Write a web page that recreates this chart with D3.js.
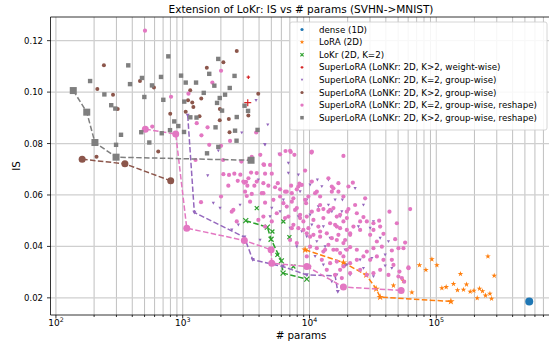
<!DOCTYPE html>
<html>
<head>
<meta charset="utf-8">
<script src="https://cdn.jsdelivr.net/npm/d3@7"></script>
<style>
  body { margin: 0; background: #fff; }
  text { font-family: "DejaVu Sans", sans-serif; fill: #000; }
</style>
</head>
<body>
<div id="chart"></div>
<script>
// [params, IS] pairs
const denseFront = [[541000, 0.0186]]

const loraFront = [[9230, 0.0387], [18520, 0.0337], [28000, 0.0289], [33560, 0.0235], [36080, 0.0203], [130400, 0.0186]]
const loraScatter = [[73690, 0.0327], [82780, 0.0309], [92330, 0.0350], [101100, 0.0327], [110700, 0.0238], [119700, 0.0242],
  [136700, 0.0254], [147000, 0.0230], [155200, 0.0293], [163900, 0.0232], [173200, 0.0252], [185200, 0.0224], [198100, 0.0228],
  [210300, 0.0199], [219300, 0.0236], [231500, 0.0226], [244500, 0.0209], [255500, 0.0361], [264900, 0.0216], [272800, 0.0197],
  [286400, 0.0286], [64180, 0.0221], [55090, 0.0266], [45940, 0.0248]]

const lokrFront = [[3142, 0.0500], [4653, 0.0475], [4977, 0.0428], [6000, 0.0344], [6188, 0.0296], [9521, 0.0273]]
const lokrScatter = [[3837, 0.0549], [6223, 0.0497], [6940, 0.0436], [5097, 0.0458], [5580, 0.0367], [7464, 0.0322]]

const weightFront = [[3258, 0.0959]]
const weightScatter = [[3294, 0.1058]]

const groupK2Front = [[1095, 0.0909], [1235, 0.0532], [3063, 0.0436], [3568, 0.0348], [6155, 0.0322], [9521, 0.0289], [15920, 0.0286], [16720, 0.0224]]
const groupK2Scatter = [[3788, 0.0968], [4687, 0.0873], [2922, 0.0842], [4430, 0.0797], [5757, 0.0759], [1910, 0.0772], [1575, 0.0675],
  [6815, 0.0724], [8429, 0.0639], [3951, 0.0659], [1744, 0.0568], [1970, 0.0549], [2833, 0.0561], [2747, 0.0484], [10110, 0.0639],
  [12510, 0.0633], [14100, 0.0659], [15920, 0.0581], [17990, 0.0535], [10110, 0.0523], [8172, 0.0516], [7031, 0.0471], [5862, 0.0535],
  [4887, 0.0516], [4075, 0.0425], [7939, 0.0399], [11070, 0.0361], [12870, 0.0328], [15000, 0.0263], [9521, 0.0438], [11420, 0.0419],
  [14540, 0.0432], [19100, 0.0387], [19700, 0.0328], [4462, 0.0795], [11540, 0.0659], [8172, 0.0678], [6815, 0.0685], [5041, 0.0549],
  [6223, 0.0581], [8429, 0.0613], [9521, 0.0581], [11750, 0.0555], [14100, 0.0561], [12870, 0.0477], [10430, 0.0484], [8693, 0.0458],
  [13280, 0.0399], [2436, 0.0464], [18180, 0.0581], [22900, 0.0626], [26640, 0.0561], [31940, 0.0497], [30090, 0.0471], [15000, 0.0535],
  [17440, 0.0516], [24310, 0.0477], [36080, 0.0432], [41960, 0.0419], [39520, 0.0367], [31020, 0.0354], [25080, 0.0348], [19100, 0.0324],
  [26640, 0.0315], [39520, 0.0324], [44620, 0.0315], [20910, 0.0289], [31940, 0.0283], [16420, 0.0289]]

const groupK3Front = [[161, 0.0739], [350, 0.0721], [804, 0.0655]]
const groupK3Scatter = [[239, 0.1104], [212, 0.1012], [282, 0.0990], [307, 0.0934], [209, 0.0749], [460, 0.1043], [593, 0.1018],
  [641, 0.0769], [797, 0.0916], [1146, 0.1007], [1101, 0.0968], [1189, 0.0960], [1056, 0.0924], [1213, 0.0942], [1400, 0.0975],
  [1357, 0.0906], [1549, 0.1095], [2092, 0.1116], [2668, 0.1160], [1963, 0.0934], [1959, 0.0891], [2311, 0.0895], [2340, 0.0844],
  [3294, 0.0909], [3943, 0.0994]]

const reshapeK2Front = [[507, 0.0856], [881, 0.0837], [1076, 0.0471], [3063, 0.0423], [4977, 0.0387], [5041, 0.0335], [9521, 0.0322], [18520, 0.0242], [52840, 0.0229]]
const reshapeK2Scatter = [[504, 0.1239], [809, 0.0982], [1110, 0.0994], [1713, 0.1037], [2006, 0.1083], [1290, 0.0879], [1570, 0.0863],
  [1405, 0.0832], [575, 0.0866], [2362, 0.0810], [1619, 0.0795], [2006, 0.0791], [3800, 0.0843], [4090, 0.0756], [3504, 0.0748],
  [4340, 0.0719], [6470, 0.0771], [7120, 0.0767], [7600, 0.0756], [1262, 0.0736], [2080, 0.0736], [2901, 0.0730], [2092, 0.0681],
  [2554, 0.0683], [2848, 0.0679], [3460, 0.0687], [3160, 0.0651], [4462, 0.0683], [5041, 0.0683], [2290, 0.0636], [2717, 0.0655],
  [3235, 0.0636], [3673, 0.0636], [4738, 0.0636], [5352, 0.0630], [7160, 0.0636], [8322, 0.0644],
  [3354, 0.0739], [4382, 0.0717], [5862, 0.0758], [10380, 0.0765], [18520, 0.0752], [2319, 0.0678], [3300, 0.0665], [3837, 0.0685],
  [3063, 0.0648], [3837, 0.0652], [5622, 0.0646], [6418, 0.0613], [7251, 0.0607], [8172, 0.0633], [9801, 0.0594], [11420, 0.0613],
  [12130, 0.0594], [15000, 0.0613], [16910, 0.0613], [18520, 0.0594], [2006, 0.0594], [1394, 0.0572], [2436, 0.0535], [3200, 0.0596],
  [3504, 0.0604], [3398, 0.0574], [4327, 0.0607], [4462, 0.0570], [5189, 0.0581], [5862, 0.0594], [6223, 0.0568], [7251, 0.0574],
  [7939, 0.0549], [9399, 0.0568], [8429, 0.0523], [10430, 0.0535], [11750, 0.0542], [12870, 0.0545], [14100, 0.0535], [15440, 0.0549],
  [17440, 0.0523], [19700, 0.0535], [4327, 0.0516], [3951, 0.0503], [5041, 0.0497], [5521, 0.0529], [6815, 0.0516], [7464, 0.0484],
  [8172, 0.0471], [8950, 0.0497], [9801, 0.0471], [10740, 0.0503], [11750, 0.0477], [12870, 0.0510], [14540, 0.0490], [16420, 0.0477],
  [18520, 0.0497], [19700, 0.0464], [9521, 0.0451], [10740, 0.0445], [12130, 0.0438], [13690, 0.0451], [15000, 0.0432], [16910, 0.0445],
  [19100, 0.0425], [20910, 0.0445], [10110, 0.0399], [11420, 0.0393], [12870, 0.0380], [14100, 0.0406], [15440, 0.0387], [17440, 0.0374],
  [19700, 0.0387], [9521, 0.0361], [12510, 0.0348], [14540, 0.0335], [16420, 0.0341], [18520, 0.0322], [13690, 0.0309], [15920, 0.0289],
  [17990, 0.0277], [9982, 0.0322],
  [4887, 0.0717], [10430, 0.0769], [3008, 0.0652], [4327, 0.0646], [5862, 0.0622], [6619, 0.0613], [7939, 0.0622], [8693, 0.0639],
  [10430, 0.0652], [14100, 0.0665], [15000, 0.0633], [16910, 0.0646], [3103, 0.0613], [4203, 0.0607], [7464, 0.0587], [9230, 0.0581],
  [11070, 0.0607], [12130, 0.0561], [14540, 0.0542], [2508, 0.0542], [2668, 0.0497], [4462, 0.0477], [6619, 0.0555], [6418, 0.0510],
  [7697, 0.0542], [8429, 0.0510], [9521, 0.0516], [16420, 0.0516], [7251, 0.0471], [8950, 0.0464], [10110, 0.0438], [12130, 0.0458],
  [16420, 0.0425], [7031, 0.0425], [7939, 0.0413], [13280, 0.0387], [16420, 0.0387],
  [15440, 0.0626], [20280, 0.0633], [21970, 0.0648], [27470, 0.0587], [22900, 0.0561], [20280, 0.0545], [26640, 0.0514], [28330, 0.0497],
  [35430, 0.0500], [42730, 0.0535], [62230, 0.0545], [48870, 0.0490], [31940, 0.0464], [38310, 0.0449], [47380, 0.0428], [56810, 0.0415],
  [50310, 0.0393], [55090, 0.0393], [44620, 0.0384], [37220, 0.0399], [33990, 0.0419], [31940, 0.0393], [28330, 0.0380], [23620, 0.0387],
  [20910, 0.0397], [18520, 0.0413], [17440, 0.0471], [20910, 0.0451], [25080, 0.0464], [30090, 0.0445], [22210, 0.0477], [15920, 0.0484],
  [19700, 0.0510], [23620, 0.0529], [25080, 0.0497], [31940, 0.0490], [36080, 0.0477], [38310, 0.0348], [44620, 0.0348], [60340, 0.0319],
  [45940, 0.0328], [33990, 0.0361], [30090, 0.0348], [26640, 0.0361], [23620, 0.0348], [20910, 0.0335], [18520, 0.0361], [36080, 0.0309],
  [31940, 0.0296], [28330, 0.0289], [50310, 0.0283], [53510, 0.0277], [41960, 0.0289], [17440, 0.0309], [20910, 0.0296], [25080, 0.0309],
  [51230, 0.0302], [60340, 0.0315], [55790, 0.0263], [7031, 0.0772], [9230, 0.0695]]

const reshapeK3Front = [[137, 0.1006], [175, 0.0922], [203, 0.0804], [298, 0.0747], [3460, 0.0735]]
const reshapeK3Scatter = [[186, 0.1043], [241, 0.0991], [273, 0.0949], [294, 0.0936], [326, 0.0834], [372, 0.1104], [384, 0.1031],
  [298, 0.0795], [477, 0.1055], [498, 0.0981], [471, 0.0844], [545, 0.0804], [572, 0.1026], [674, 0.1059], [703, 0.0970], [770, 0.1139],
  [683, 0.0840], [970, 0.1064], [1056, 0.1037], [1274, 0.1037], [1465, 0.0997], [1619, 0.1071], [1776, 0.1025], [1907, 0.1129],
  [2349, 0.1016], [2563, 0.1063], [2157, 0.0990], [1959, 0.0977], [1866, 0.0958], [2043, 0.0928], [3075, 0.0947], [3276, 0.0927],
  [2668, 0.0903], [1815, 0.0863], [2587, 0.0850], [2658, 0.0811], [1910, 0.0787], [1555, 0.0762], [3893, 0.0853], [1285, 0.0901],
  [1148, 0.0902], [1028, 0.0963], [858, 0.0886], [923, 0.0868], [1024, 0.0845], [794, 0.0852]]

const seriesNames = ['dense (1D)', 'LoRA (2D)', 'LoKr (2D, K=2)', 'SuperLoRA (LoNKr: 2D, K>2, weight-wise)',
  'SuperLoRA (LoNKr: 2D, K=2, group-wise)', 'SuperLoRA (LoNKr: 2D, K>2, group-wise)',
  'SuperLoRA (LoNKr: 2D, K=2, group-wise, reshape)', 'SuperLoRA (LoNKr: 2D, K>2, group-wise, reshape)']
const yTicks = [0.02, 0.04, 0.06, 0.08, 0.10, 0.12]
const xTicks = [100, 1000, 10000, 100000]

const width = 549
const height = 347
const margin = {top: 17, right: -3, bottom: 32, left: 50.5}

const svg = d3.select('#chart').append('svg')
  .attr('width', width)
  .attr('height', height)

const x = d3.scaleLog()
  .domain([90.6, 818000])
  .range([margin.left, width - margin.right])

const y = d3.scaleLinear()
  .domain([0.01333, 0.1292])
  .range([height - margin.bottom, margin.top])

// grid
const minorX = []
for (let e = 1; e <= 5; e++) for (let m = 1; m <= 9; m++) {
  const v = m * Math.pow(10, e)
  if (v > x.domain()[0] && v < x.domain()[1]) minorX.push(v)
}
svg.append('g').selectAll('line').data(minorX).join('line')
  .attr('x1', d => x(d)).attr('x2', d => x(d))
  .attr('y1', margin.top).attr('y2', height - margin.bottom)
  .attr('stroke', '#b0b0b0').attr('stroke-width', 0.8)

svg.append('g').selectAll('line').data(yTicks).join('line')
  .attr('x1', margin.left).attr('x2', width)
  .attr('y1', d => y(d)).attr('y2', d => y(d))
  .attr('stroke', '#cfcfcf').attr('stroke-width', 1.3)

// markers
function drawMarker(g, shape, cx, cy, s, color) {
  if (shape === 'o') {
    g.append('circle').attr('cx', cx).attr('cy', cy).attr('r', s / 2).attr('fill', color)
  } else if (shape === 's') {
    g.append('rect').attr('x', cx - s / 2).attr('y', cy - s / 2).attr('width', s).attr('height', s).attr('fill', color)
  } else if (shape === 'v') {
    g.append('path').attr('d', `M${cx - s / 2},${cy - s / 2.4}L${cx + s / 2},${cy - s / 2.4}L${cx},${cy + s / 2}Z`).attr('fill', color)
  } else if (shape === '*') {
    g.append('path').attr('transform', `translate(${cx},${cy})`)
      .attr('d', d3.symbol(d3.symbolStar).size(s * s * 0.4)()).attr('fill', color)
  } else if (shape === 'x') {
    const h = s / 2
    g.append('path').attr('d', `M${cx - h},${cy - h}L${cx + h},${cy + h}M${cx - h},${cy + h}L${cx + h},${cy - h}`)
      .attr('stroke', color).attr('stroke-width', 1.2).attr('fill', 'none')
  } else if (shape === '+') {
    const h = s / 2
    g.append('path').attr('d', `M${cx - h},${cy}L${cx + h},${cy}M${cx},${cy - h}L${cx},${cy + h}`)
      .attr('stroke', color).attr('stroke-width', 1.2).attr('fill', 'none')
  }
}

const series = [
  {front: denseFront, scatter: [], color: '#1f77b4', shape: 'o', small: 4, big: 8},
  {front: loraFront, scatter: loraScatter, color: '#ff7f0e', shape: '*', small: 5, big: 6.5},
  {front: lokrFront, scatter: lokrScatter, color: '#2ca02c', shape: 'x', small: 4, big: 5},
  {front: weightFront, scatter: weightScatter, color: '#d62728', shape: '+', small: 3.5, big: 7},
  {front: groupK2Front, scatter: groupK2Scatter, color: '#9467bd', shape: 'v', small: 3.2, big: 4},
  {front: groupK3Front, scatter: groupK3Scatter, color: '#8c564b', shape: 'o', small: 4, big: 7},
  {front: reshapeK2Front, scatter: reshapeK2Scatter, color: '#e377c2', shape: 'o', small: 4.2, big: 7},
  {front: reshapeK3Front, scatter: reshapeK3Scatter, color: '#7f7f7f', shape: 's', small: 4.4, big: 7}
]

const line = d3.line().x(d => x(d[0])).y(d => y(d[1]))

series.forEach(s => {
  const g = svg.append('g')
  s.scatter.forEach(d => drawMarker(g, s.shape, x(d[0]), y(d[1]), s.small, s.color))
  if (s.front.length > 1) {
    g.append('path')
      .attr('d', line(s.front))
      .attr('fill', 'none')
      .attr('stroke', s.color)
      .attr('stroke-width', 1.5)
      .attr('stroke-dasharray', '5.5,2.4')
  }
  s.front.forEach(d => drawMarker(g, s.shape, x(d[0]), y(d[1]), s.big, s.color))
})

// axes
const xAxis = svg.append('g').attr('transform', `translate(0,${height - margin.bottom})`)
xAxis.append('line').attr('x1', margin.left).attr('x2', width).attr('stroke', '#000').attr('stroke-width', 0.8)
xAxis.selectAll('.minor').data(minorX).join('line')
  .attr('x1', d => x(d)).attr('x2', d => x(d)).attr('y1', 0)
  .attr('y2', d => xTicks.includes(d) ? 3.5 : 2)
  .attr('stroke', '#000').attr('stroke-width', 0.8)
const xLab = xAxis.selectAll('text').data(xTicks).join('text')
  .attr('x', d => x(d)).attr('y', 11).attr('text-anchor', 'middle').attr('font-size', 9)
xLab.append('tspan').text('10')
xLab.append('tspan').attr('dy', -4).attr('font-size', 6.3).text(d => Math.round(Math.log10(d)))

const yAxis = svg.append('g').attr('transform', `translate(${margin.left},0)`)
yAxis.append('line').attr('y1', margin.top).attr('y2', height - margin.bottom).attr('stroke', '#000').attr('stroke-width', 0.8)
yAxis.selectAll('.tick').data(yTicks).join('line')
  .attr('x1', -3.5).attr('x2', 0).attr('y1', d => y(d)).attr('y2', d => y(d))
  .attr('stroke', '#000').attr('stroke-width', 0.8)
yAxis.selectAll('text').data(yTicks).join('text')
  .attr('x', -7.5).attr('y', d => y(d)).attr('dy', '0.35em')
  .attr('text-anchor', 'end').attr('font-size', 8.5)
  .text(d => d3.format('.2f')(d))

svg.append('line').attr('x1', margin.left).attr('x2', width).attr('y1', margin.top).attr('y2', margin.top)
  .attr('stroke', '#000').attr('stroke-width', 0.8)

svg.append('text').attr('x', 301).attr('y', 339)
  .attr('text-anchor', 'middle').attr('font-size', 10.3).text('# params')
svg.append('text').attr('transform', `translate(20,${(margin.top + height - margin.bottom) / 2}) rotate(-90)`)
  .attr('text-anchor', 'middle').attr('font-size', 10.3).text('IS')
svg.append('text').attr('x', 301).attr('y', 13)
  .attr('text-anchor', 'middle').attr('font-size', 10.5).text('Extension of LoKr: IS vs # params (SVHN->MNIST)')

// legend
const legend = svg.append('g').attr('transform', 'translate(290,22)')
legend.append('rect').attr('width', 257).attr('height', 108).attr('rx', 2)
  .attr('fill', '#fff').attr('fill-opacity', 0.85).attr('stroke', '#cccccc').attr('stroke-width', 0.8)
series.forEach((s, i) => {
  const ly = 7.5 + i * 12.6
  drawMarker(legend, s.shape, 12, ly, s.small * 0.8, s.color)
  legend.append('text').attr('x', 29).attr('y', ly).attr('dy', '0.35em')
    .attr('font-size', 8.7).text(seriesNames[i])
})
</script>
</body>
</html>
